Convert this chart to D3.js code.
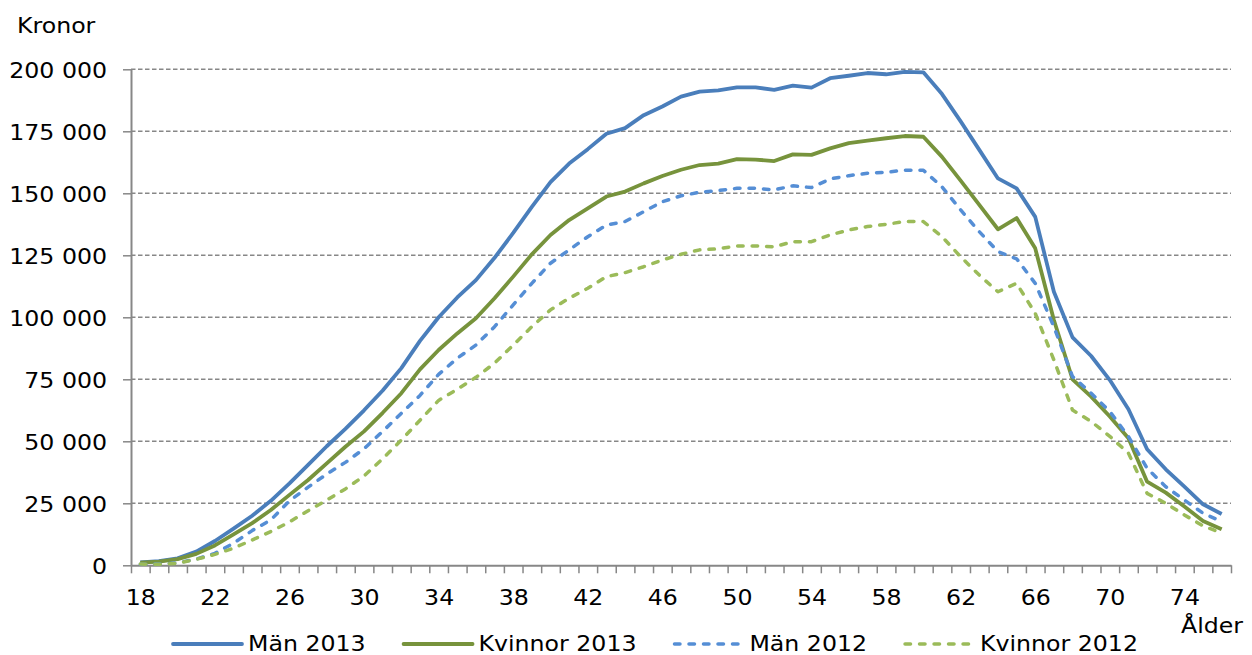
<!DOCTYPE html>
<html><head><meta charset="utf-8">
<script src="https://cdn.jsdelivr.net/npm/d3@7"></script>
<style>
body{margin:0;background:#fff}
svg{display:block}
text{font-family:"DejaVu Sans",Verdana,sans-serif;fill:#000}
</style>
</head><body>
<svg id="c" width="1252" height="655"></svg>
<script>
// ---- data ----
const ages = [18,19,20,21,22,23,24,25,26,27,28,29,30,31,32,33,34,35,36,37,38,39,40,41,42,43,44,45,46,47,48,49,50,51,52,53,54,55,56,57,58,59,60,61,62,63,64,65,66,67,68,69,70,71,72,73,74,75,76];
const man2013 = [1200,1700,2800,5500,9800,14800,20000,26000,33000,40500,48000,55000,62500,70500,79500,90500,100000,108000,115000,124000,134000,144500,154500,162000,167800,174000,176300,181500,185000,189000,191000,191500,192700,192700,191700,193400,192600,196400,197400,198500,198000,199000,198800,190000,179000,167500,156000,152000,140500,110300,91900,84400,74700,62900,46800,38700,31700,24600,20700];
const kvinnor2013 = [1100,1500,2500,4600,8000,12500,17000,22300,28400,34400,41100,47800,54000,61500,69400,79000,86800,93500,99600,107700,116400,125400,133200,139200,143900,148700,150700,154000,157000,159500,161400,162000,163800,163600,163000,165700,165500,168100,170200,171200,172200,173100,172800,164700,155100,145300,135500,140000,127800,98900,75000,68000,60000,51200,33700,29300,23700,17900,14500];
const man2012 = [400,500,1000,2500,4800,8900,14000,18300,26000,31500,36800,41500,47000,54000,61300,68500,77000,83500,88800,96200,105000,113700,121800,127200,132500,137200,138600,142600,146600,149000,150400,151100,152000,152000,151400,153000,152300,155800,157100,158100,158500,159300,159300,152600,143300,134500,126500,123600,113700,96200,76100,69400,62000,51900,39100,31700,26300,21000,17600];
const kvinnor2012 = [500,400,800,2400,4400,6900,10200,13600,17500,22000,26300,30800,36000,43000,50500,58500,66500,71000,75800,81500,88800,96200,103000,107700,111700,116400,118000,120400,123100,125400,127200,127600,128800,128800,128400,130500,130500,133200,135200,136600,137500,138600,138600,132500,124400,117000,110300,113700,101600,82800,62600,58000,52000,45200,29000,25000,20300,15900,13000];
const seriesNames = ["Män 2013","Kvinnor 2013","Män 2012","Kvinnor 2012"];
const xTickAges = [18,22,26,30,34,38,42,46,50,54,58,62,66,70,74];
const yTicks = [0,25000,50000,75000,100000,125000,150000,175000,200000];
const yTitle = "Kronor";
const xTitle = "Ålder";

// ---- styles / layout ----
const seriesStyle = [
  {color:"#4A7EBB", dash:null, width:3.8},
  {color:"#77933C", dash:null, width:3.8},
  {color:"#558ED5", dash:"5.5,9", width:3.5},
  {color:"#9BBB59", dash:"5.5,9", width:3.5}
];
const seriesData = [man2013, kvinnor2013, man2012, kvinnor2012];
const plotL=131, plotR=1231, plotT=69.3, plotB=565.3;
const SX=1.1, FS=21.5, AXC="#878787";

const svg = d3.select("#c");
const x = d3.scaleLinear().domain([ages[0]-0.5, ages[ages.length-1]+0.5]).range([plotL,plotR]);
const y = d3.scaleLinear().domain([0,200000]).range([plotB,plotT]);
const fmt = d3.formatLocale({decimal:",",thousands:" ",grouping:[3],currency:["","kr"]}).format(",d");

// gridlines
svg.append("g").selectAll("line").data(yTicks.filter(d=>d>0)).join("line")
  .attr("x1",plotL).attr("x2",plotR).attr("y1",d=>y(d)).attr("y2",d=>y(d))
  .attr("stroke",AXC).attr("stroke-width",1.5).attr("stroke-dasharray","4.5,2.5");

// y axis
const gy = svg.append("g").attr("transform",`translate(${plotL},0)`)
  .call(d3.axisLeft(y).tickValues(yTicks).tickSize(8).tickSizeOuter(0).tickFormat(fmt));
gy.select(".domain").attr("stroke",AXC).attr("stroke-width",2);
gy.selectAll(".tick line").attr("stroke",AXC).attr("stroke-width",1.5);
gy.selectAll(".tick text").attr("font-size",FS).attr("font-family",null)
  .attr("x",-24/SX).attr("dy",null).attr("y",8.5).attr("transform",`scale(${SX},1)`);

// x axis: tick marks at category boundaries
const gx = svg.append("g").attr("transform",`translate(0,${plotB})`)
  .call(d3.axisBottom(x).tickValues(ages.map(a=>a-0.5).concat([ages[ages.length-1]+0.5]))
    .tickSize(8).tickSizeOuter(0).tickFormat(""));
gx.select(".domain").attr("stroke",AXC).attr("stroke-width",2);
gx.selectAll(".tick line").attr("stroke",AXC).attr("stroke-width",1.5);

// x axis labels
const gxl = svg.append("g").attr("transform",`translate(0,${plotB})`)
  .call(d3.axisBottom(x).tickValues(xTickAges).tickSize(0).tickFormat(d3.format("d")));
gxl.select(".domain").remove();
gxl.selectAll(".tick text").attr("font-size",FS).attr("font-family",null)
  .attr("dy",null).attr("y",40).attr("transform",`scale(${SX},1)`);

// lines
const line = d3.line().x((d,i)=>x(ages[i])).y(d=>y(d));
svg.append("g").selectAll("path").data(seriesData).join("path")
  .attr("d",line).attr("fill","none")
  .attr("stroke",(d,i)=>seriesStyle[i].color)
  .attr("stroke-width",(d,i)=>seriesStyle[i].width)
  .attr("stroke-dasharray",(d,i)=>seriesStyle[i].dash)
  .attr("stroke-linecap",(d,i)=>seriesStyle[i].dash?"round":"butt")
  .attr("stroke-linejoin","round");

// titles
svg.append("text").attr("transform",`translate(17,33) scale(${SX},1)`).attr("font-size",FS).text(yTitle);
svg.append("text").attr("transform",`translate(1243,633.3) scale(${SX},1)`).attr("text-anchor","end").attr("font-size",FS).text(xTitle);

// legend
const lg = svg.append("g");
let cx = 173; const ly = 644;
seriesNames.forEach((name,i)=>{
  const st = seriesStyle[i];
  lg.append("line").attr("x1",cx).attr("x2",cx+69).attr("y1",ly).attr("y2",ly)
    .attr("stroke",st.color).attr("stroke-width",st.width)
    .attr("stroke-dasharray",st.dash).attr("stroke-linecap","round");
  const t = lg.append("text").attr("transform",`translate(${cx+75},651) scale(${SX},1)`)
    .attr("font-size",FS).text(name);
  const w = t.node().getComputedTextLength()*SX;
  cx = cx + 75 + w + 38;
});
</script>
</body></html>
